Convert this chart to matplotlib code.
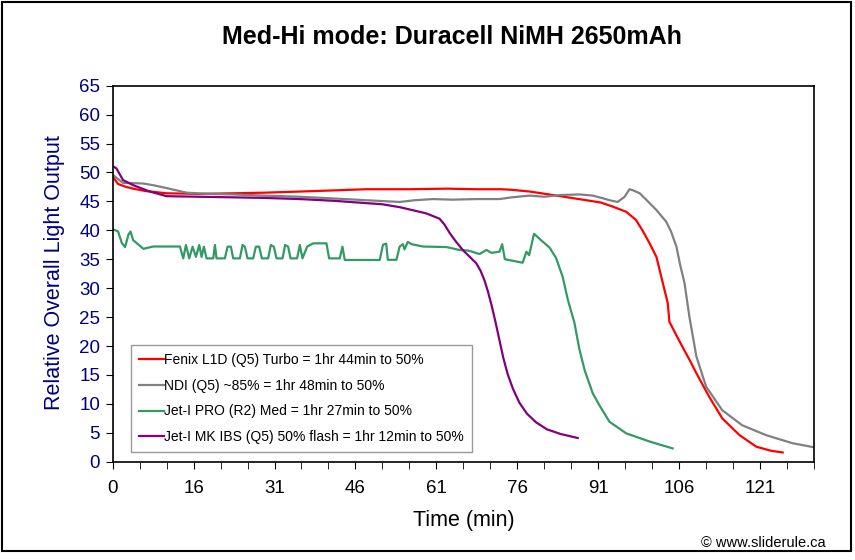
import matplotlib
matplotlib.use("Agg")
import matplotlib.pyplot as plt
from matplotlib.patches import Rectangle

plt.rcParams['font.family'] = ['Liberation Sans', 'DejaVu Sans']

# time (min, position on axis) and relative output
fenix_t = [0, 1.0, 2.5, 3.8, 6, 10, 16, 22.3, 28, 34.7, 41, 47, 55, 62, 67.4, 72, 74,
           77.3, 81.6, 85, 87.8, 90.5, 92.7, 95.2, 97, 98.2, 99.5, 100.8, 101.9, 102.9,
           103.2, 104.3, 105.6, 107, 108.2, 110.6, 113, 116.2, 119.3, 122, 124.2]
fenix_y = [49.3, 48.0, 47.5, 47.2, 46.8, 46.4, 46.3, 46.4, 46.5, 46.7, 46.9, 47.1, 47.1,
           47.2, 47.1, 47.1, 47.0, 46.7, 46.1, 45.6, 45.2, 44.8, 44.1, 43.2, 41.8, 40.0,
           37.8, 35.4, 31.2, 27.4, 24.2, 22.2, 19.9, 17.5, 15.3, 11.2, 7.5, 4.6, 2.6, 1.9, 1.6]

ndi_t = [0, 1.9, 5.6, 7.5, 10, 13.7, 18, 22.3, 28, 34.7, 41, 47, 53.2, 56, 59.4, 63,
         67.4, 71.7, 74, 77.3, 80, 83, 86.6, 89, 91, 92.1, 93.6, 94.9, 95.8, 96.5, 97.7,
         99, 100.8, 102.6, 103.5, 104.5, 105.2, 106, 106.9, 108.2, 110, 113, 116.7, 121.1,
         126, 130]
ndi_y = [49.6, 48.2, 48.1, 47.8, 47.3, 46.5, 46.3, 46.2, 46.0, 45.8, 45.5, 45.2, 44.9,
         45.2, 45.4, 45.3, 45.4, 45.4, 45.7, 46.0, 45.8, 46.1, 46.2, 46.0, 45.5, 45.2,
         44.9, 45.8, 47.1, 46.9, 46.4, 45.2, 43.5, 41.5, 39.8, 37.2, 34.0, 30.9, 25.1,
         18.2, 13.0, 8.9, 6.3, 4.6, 3.2, 2.5]

pro_t = [0, 1.0, 1.7, 2.3, 2.9, 3.3, 3.8, 5.7, 7.5, 12.46, 13.08, 13.58, 14.19, 14.81,
         15.43, 16.05, 16.48, 16.91, 17.4, 18.64, 18.95, 19.25, 20.8, 21.29, 21.91, 22.34,
         23.58, 24.07, 24.5, 25.0, 26.05, 26.54, 27.16, 27.65, 28.82, 29.32, 29.87, 30.37,
         31.48, 31.97, 32.53, 32.96, 34.19, 34.69, 35.18, 36.05, 37.16, 39.63, 40.12, 42.09,
         42.59, 43.02, 49.5, 50.1, 50.7, 51.0, 52.6, 53.2, 53.8, 54.1, 54.7, 55.4, 57.5,
         61.9, 64.3, 65.9, 68.0, 69.3, 70.2, 71.7, 72.2, 72.7, 76.0, 76.7, 77.2, 78.1, 79.4,
         81.0, 82.2, 83.4, 84.4, 85.6, 86.5, 87.5, 89.0, 90.2, 92.1, 95.2, 99.5, 103.8]
pro_y = [40.2, 39.8, 37.8, 37.1, 39.2, 39.8, 38.3, 36.8, 37.2, 37.2, 35.15, 37.46, 35.15,
         37.17, 35.4, 37.46, 35.4, 37.17, 35.15, 35.15, 37.46, 35.15, 35.15, 37.17, 37.17,
         35.15, 35.15, 37.46, 37.17, 35.15, 35.15, 37.17, 37.17, 35.15, 35.15, 37.46, 37.17,
         35.15, 35.15, 37.46, 37.17, 35.15, 35.15, 37.46, 35.15, 37.17, 37.75, 37.75, 35.15,
         35.15, 37.17, 34.87, 34.87, 37.5, 37.7, 34.9, 34.9, 37.2, 37.6, 36.7, 38.0, 37.6,
         37.2, 37.1, 36.6, 36.5, 35.9, 36.6, 36.1, 36.3, 37.6, 35.0, 34.4, 36.3, 35.7, 39.4,
         38.3, 37.0, 35.2, 32.0, 27.9, 24.0, 19.5, 15.8, 11.8, 9.8, 6.9, 4.9, 3.5, 2.3]

mk_t = [0, 0.7, 1.9, 3.8, 6.9, 10, 16, 22.3, 28, 34.7, 41, 47, 50, 53.2, 56.9, 58.2,
        60.6, 61.5, 62.5, 63.5, 64.9, 67.4, 68.2, 68.9, 69.6, 70.3, 71.0, 71.7, 72.4,
        73.2, 74.2, 75.4, 76.8, 78.5, 80.5, 83.0, 86.2]
mk_y = [51.1, 50.7, 48.7, 47.8, 46.7, 45.9, 45.8, 45.7, 45.6, 45.4, 45.1, 44.7, 44.5,
        44.0, 43.2, 42.9, 42.0, 41.0, 39.5, 38.2, 36.6, 34.3, 33.0, 31.4, 29.3, 26.8,
        24.0, 21.0, 18.0, 15.2, 12.6, 10.2, 8.3, 6.8, 5.6, 4.8, 4.1]

labels = ["Fenix L1D (Q5) Turbo = 1hr 44min to 50%",
          "NDI (Q5) ~85% = 1hr 48min to 50%",
          "Jet-I PRO (R2) Med = 1hr 27min to 50%",
          "Jet-I MK IBS (Q5) 50% flash = 1hr 12min to 50%"]
colors = ["#ff0000", "#808080", "#339966", "#800080"]

x_ticks = [0, 15, 30, 45, 60, 75, 90, 105, 120]
x_ticklabels = ["0", "16", "31", "46", "61", "76", "91", "106", "121"]

fig = plt.figure(figsize=(8.55, 5.6), dpi=100)
ax = fig.add_axes([0.1318, 0.1755, 0.8202, 0.6715])

series = [(fenix_t, fenix_y), (ndi_t, ndi_y), (pro_t, pro_y), (mk_t, mk_y)]
for (t, y), lab, c in zip(series, labels, colors):
    ax.plot(t, y, color=c, lw=1.6, label=lab)

ax.set_xlim(0, 130)
ax.set_ylim(0, 65)
ax.set_yticks(range(0, 66, 5))
ax.set_xticks(x_ticks)
ax.set_xticklabels(x_ticklabels)
ax.set_xticks(range(0, 131, 5), minor=True)
ax.tick_params(axis='y', direction='out', length=5, pad=4, labelsize=13.5,
               labelcolor='#000080')
ax.tick_params(axis='x', which='both', direction='out', length=5, pad=8, labelsize=13.5)
for s in ax.spines.values():
    s.set_linewidth(1.2)

leg = ax.legend(loc='lower left', bbox_to_anchor=(0.026, 0.026), fontsize=10,
                frameon=True, fancybox=False, edgecolor='#808080', handlelength=1.8,
                handletextpad=0.05, labelspacing=0.85, borderpad=0.55, borderaxespad=0)
leg.get_frame().set_linewidth(1.0)

fig.text(0.529, 0.934, "Med-Hi mode: Duracell NiMH 2650mAh", ha='center', va='center',
         fontsize=18, fontweight='bold')
fig.text(0.064, 0.514, "Relative Overall Light Output", rotation=90, ha='center',
         va='center', fontsize=15.5, color='#000080')
fig.text(0.542, 0.070, "Time (min)", ha='center', va='center', fontsize=15.5)
fig.text(0.966, 0.030, "\u00a9 www.sliderule.ca", ha='right', va='center', fontsize=10.5)

fig.patches.append(Rectangle((0.0023, 0.016), 0.993, 0.980, transform=fig.transFigure,
                             fill=False, edgecolor='black', lw=1.5))

fig.savefig("out.png", dpi=100)
